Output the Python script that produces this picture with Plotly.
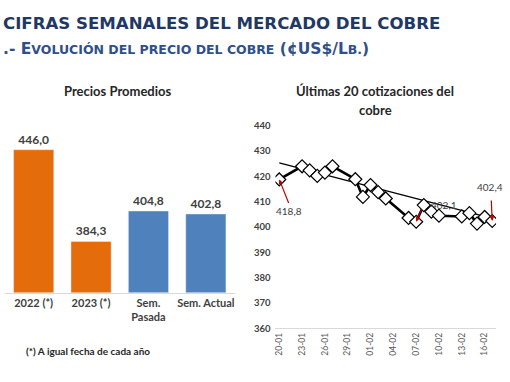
import plotly.graph_objects as go

# ---------------- data ----------------
bar_categories = ["2022 (*)", "2023 (*)", "Sem.<br>Pasada", "Sem. Actual"]
bar_values = [446.0, 384.3, 404.8, 402.8]
bar_colors = ["#E46C0A", "#E46C0A", "#4F81BD", "#4F81BD"]

quote_dates = ["2023-01-20", "2023-01-23", "2023-01-24", "2023-01-25", "2023-01-26",
               "2023-01-27", "2023-01-30", "2023-01-31", "2023-02-01", "2023-02-02",
               "2023-02-03", "2023-02-06", "2023-02-07", "2023-02-08", "2023-02-09",
               "2023-02-10", "2023-02-13", "2023-02-14", "2023-02-15", "2023-02-16",
               "2023-02-17"]
quote_prices = [418.8, 424.0, 422.4, 420.2, 421.5, 424.0, 418.9, 411.9, 416.6, 413.8,
                411.3, 403.6, 402.1, 408.7, 406.1, 404.5, 404.2, 405.5, 401.4, 404.0,
                402.4]
trend_dates = ["2023-01-20", "2023-02-17"]
trend_values = [425.3, 403.4]

y2_ticks = [360, 370, 380, 390, 400, 410, 420, 430, 440]

# labelled points: (index, x-shift, y-shift of text, arrow ax, arrow ay)
labelled = [(0, 10, -32, 10, 25), (12, 28, 17, 6, -14), (20, -2, 34, -1, -22)]

W, H = 510, 382
def PX(x):
    return x / W
def PY(y):
    return 1 - y / H

def fmt(v):
    return f"{v:.1f}".replace(".", ",")

TXT = "#404040"
fig = go.Figure()

fig.add_trace(go.Bar(
    x=bar_categories, y=bar_values, marker_color=bar_colors, width=0.7,
    text=[fmt(v) for v in bar_values], textposition="outside", cliponaxis=False,
    textfont=dict(family="Lato", size=12, color=TXT, weight="bold"),
    xaxis="x", yaxis="y", hoverinfo="skip"))

fig.add_trace(go.Scatter(
    x=trend_dates, y=trend_values, mode="lines",
    line=dict(color="black", width=1.3), xaxis="x2", yaxis="y2", hoverinfo="skip"))

fig.add_trace(go.Scatter(
    x=quote_dates, y=quote_prices, mode="lines+markers",
    line=dict(color="black", width=2.6),
    marker=dict(symbol="diamond", size=10, color="white", line=dict(color="black", width=1.2)),
    xaxis="x2", yaxis="y2", hoverinfo="skip"))

annotations = []
# header
annotations.append(dict(
    x=0, y=PY(18), xref="paper", yref="paper", xanchor="left", yanchor="middle",
    showarrow=False, text="CIFRAS SEMANALES DEL MERCADO DEL COBRE",
    font=dict(family="DejaVu Sans", size=16.6, color="#1F3864", weight="bold")))
sc = "<span style='font-size:12.5px'>"
annotations.append(dict(
    x=0, y=PY(44), xref="paper", yref="paper", xanchor="left", yanchor="middle",
    showarrow=False,
    text=".- E" + sc + "VOLUCIÓN DEL PRECIO DEL COBRE</span> (¢US$/L" + sc + "B.</span>)",
    font=dict(family="DejaVu Sans", size=15.5, color="#2F4F8A", weight="bold")))
# chart titles
annotations.append(dict(
    x=PX(117), y=PY(88), xref="paper", yref="paper", xanchor="center", yanchor="middle",
    showarrow=False, text="Precios Promedios",
    font=dict(family="Lato", size=13, color="#262626", weight="bold")))
annotations.append(dict(
    x=PX(375), y=PY(88), xref="paper", yref="paper", xanchor="center", yanchor="middle",
    showarrow=False, text="Últimas 20 cotizaciones del",
    font=dict(family="Lato", size=13, color="#262626", weight="bold")))
annotations.append(dict(
    x=PX(375), y=PY(107), xref="paper", yref="paper", xanchor="center", yanchor="middle",
    showarrow=False, text="cobre",
    font=dict(family="Lato", size=13, color="#262626", weight="bold")))
annotations.append(dict(
    x=PX(23), y=PY(355), xref="paper", yref="paper", xanchor="left", yanchor="middle",
    showarrow=False, text="(*) A igual fecha de cada año",
    font=dict(family="Lato", size=10, color="#262626", weight="bold")))

for idx, xs, ys, ax, ay in labelled:
    annotations.append(dict(
        x=quote_dates[idx], y=quote_prices[idx], xref="x2", yref="y2",
        text="", showarrow=True, ax=ax, ay=ay, axref="pixel", ayref="pixel",
        arrowcolor="#C00000", arrowwidth=1.2, arrowhead=2, arrowsize=0.8, standoff=0))
    annotations.append(dict(
        x=quote_dates[idx], y=quote_prices[idx], xref="x2", yref="y2",
        text=fmt(quote_prices[idx]), showarrow=False, xshift=xs, yshift=ys,
        font=dict(family="Lato", size=10, color=TXT)))

fig.update_layout(
    width=W, height=H, margin=dict(l=0, r=0, t=0, b=0),
    paper_bgcolor="white", plot_bgcolor="white", showlegend=False,
    annotations=annotations,
    xaxis=dict(domain=[PX(4), PX(234)], anchor="y", showline=True, linecolor="#D9D9D9",
               linewidth=1, showgrid=False, ticks="", fixedrange=True,
               tickfont=dict(family="Lato", size=11, color=TXT, weight="bold")),
    yaxis=dict(domain=[PY(295), PY(125)], range=[350, 461], visible=False, fixedrange=True),
    xaxis2=dict(domain=[PX(275), PX(496)], anchor="y2", type="date",
                range=["2023-01-19 12:00", "2023-02-17 12:00"],
                tick0="2023-01-20", dtick=3 * 86400000, tickformat="%d-%m",
                tickangle=-90, showgrid=False, showline=True, linecolor="#D9D9D9",
                ticks="", tickfont=dict(family="Lato", size=8.5, color="#595959")),
    yaxis2=dict(domain=[PY(332), PY(123.3)], anchor="x2", range=[360, 440],
                tickvals=y2_ticks, showgrid=False, showline=False, zeroline=False,
                ticks="", ticklabelstandoff=4,
                tickfont=dict(family="Lato", size=9.5, color=TXT, weight="bold")),
)

fig.write_html("out.html", config={"displayModeBar": False},
               post_script="document.body.style.margin='0';")
